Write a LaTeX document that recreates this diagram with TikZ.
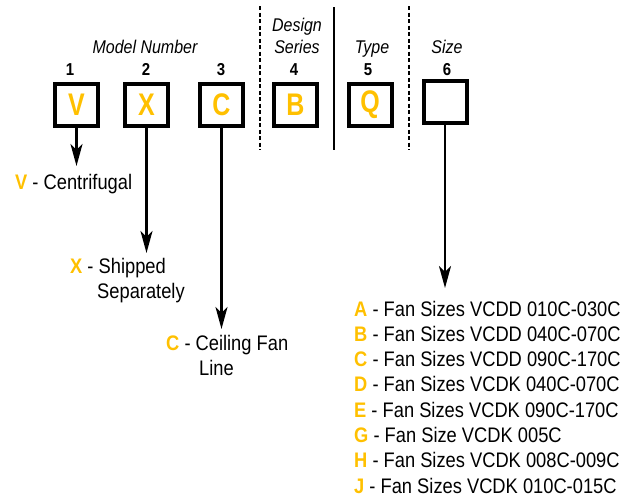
\documentclass[tikz,border=0pt]{standalone}
\usepackage{fontspec}
\usepackage{graphicx}
\setmainfont{Liberation Sans}
\usetikzlibrary{arrows.meta}
\definecolor{yel}{HTML}{FFC000}
\newcommand{\stv}[1]{\scalebox{1}[1.15]{#1}}
\newcommand{\stb}[1]{\scalebox{1}[1.25]{#1}}
\newcommand{\yl}[1]{\textcolor{yel}{\textbf{#1}}}
\tikzset{
  codebox/.style={draw, line width=4pt, minimum width=43pt, minimum height=42pt, inner sep=0pt,
     font=\fontsize{25}{27}\selectfont\bfseries, text=yel},
  numlab/.style={anchor=base, inner sep=0pt, font=\fontsize{15}{17}\selectfont\bfseries},
  hdr/.style={anchor=base, inner sep=0pt, font=\fontsize{16}{18}\selectfont\itshape},
  desc/.style={anchor=base west, inner sep=0pt, font=\fontsize{18.3}{20}\selectfont},
  arr/.style={line width=2.5pt, -{Stealth[length=22pt,width=12pt,inset=6pt]}},
  sep/.style={line width=1.5pt, dash pattern=on 4pt off 2.5pt},
  sepsolid/.style={line width=1.8pt}
}
\begin{document}
\begin{tikzpicture}[x=1pt,y=-1pt]
\useasboundingbox (0,0) rectangle (632,496);
% separators
\coordinate (d1t) at (260,6); \coordinate (d1b) at (260,150);
\coordinate (s1t) at (334,7); \coordinate (s1b) at (334,150);
\coordinate (d2t) at (409,6); \coordinate (d2b) at (409,150);
\draw[sep] (d1t) -- (d1b);
\draw[sepsolid] (s1t) -- (s1b);
\draw[sep] (d2t) -- (d2b);
% headers
\node[hdr] (hmn) at (145,53) {\stv{Model Number}};
\node[hdr] (hds1) at (297,31.5) {\stv{Design}};
\node[hdr] (hds2) at (297,53) {\stv{Series}};
\node[hdr] (hty) at (372,53) {\stv{Type}};
\node[hdr] (hsz) at (447,53) {\stv{Size}};
% numbers
\node[numlab] (n1) at (70,75) {\stv{1}};
\node[numlab] (n2) at (146,75) {\stv{2}};
\node[numlab] (n3) at (221,75) {\stv{3}};
\node[numlab] (n4) at (294,75) {\stv{4}};
\node[numlab] (n5) at (368,75) {\stv{5}};
\node[numlab] (n6) at (447,75) {\stv{6}};
% boxes
\node[codebox] (b1) at (76.5,104.5) {\stb{V}};
\node[codebox] (b2) at (146.5,104.5) {\stb{X}};
\node[codebox] (b3) at (221.5,104.5) {\stb{C}};
\node[codebox] (b4) at (295.5,104.5) {\stb{B}};
\node[codebox] (b5) at (370,104.5) {\stb{Q}};
\node[codebox] (b6) at (445,101.5) {};
% arrow tips
\coordinate (t1) at (76.5,166);
\coordinate (t2) at (146.5,253);
\coordinate (t3) at (221.5,329);
\coordinate (t6) at (445,288);
\draw[arr] (b1.south) -- (t1);
\draw[arr] (b2.south) -- (t2);
\draw[arr] (b3.south) -- (t3);
\draw[arr] (b6.south) -- (t6);
% descriptions
\node[desc] (dv) at (15,189) {\stv{\yl{V} - Centrifugal}};
\node[desc] (dx) at (70,273) {\stv{\yl{X} - Shipped}};
\node[desc] (dx2) at (97,298) {\stv{Separately}};
\node[desc] (dc) at (166,350) {\stv{\yl{C} - Ceiling Fan}};
\node[desc] (dc2) at (199,375) {\stv{Line}};
\node[desc] (la) at (354,316) {\stv{\yl{A} - Fan Sizes VCDD 010C-030C}};
\node[desc] (lb) at (354,341.3) {\stv{\yl{B} - Fan Sizes VCDD 040C-070C}};
\node[desc] (lc) at (354,366.6) {\stv{\yl{C} - Fan Sizes VCDD 090C-170C}};
\node[desc] (ld) at (354,391.9) {\stv{\yl{D} - Fan Sizes VCDK 040C-070C}};
\node[desc] (le) at (354,417.2) {\stv{\yl{E} - Fan Sizes VCDK 090C-170C}};
\node[desc] (lg) at (354,442.5) {\stv{\yl{G} - Fan Size VCDK 005C}};
\node[desc] (lh) at (354,467.8) {\stv{\yl{H} - Fan Sizes VCDK 008C-009C}};
\node[desc] (lj) at (354,493) {\stv{\yl{J} - Fan Sizes VCDK 010C-015C}};
\end{tikzpicture}
\end{document}
